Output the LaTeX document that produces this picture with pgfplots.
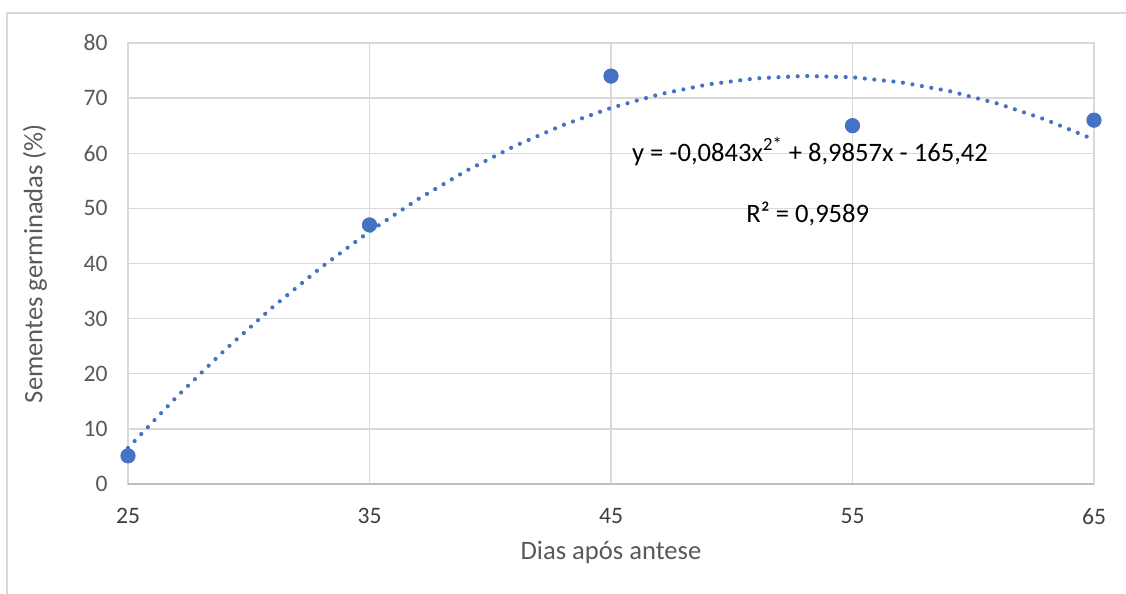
\documentclass[border=0pt]{standalone}
\usepackage{pgfplots}
\pgfplotsset{compat=1.18}
\usepackage{fontspec}
\setmainfont{Carlito}
\definecolor{gridc}{HTML}{D9D9D9}
\definecolor{axisc}{HTML}{BFBFBF}
\definecolor{txtc}{HTML}{595959}
\definecolor{ptc}{HTML}{4472C4}
\begin{document}
\begin{tikzpicture}
\useasboundingbox (0,0) rectangle (563pt,297pt);
\draw[gridc, line width=0.6pt] (3.5pt,0pt) -- (3.5pt,290.5pt) -- (563pt,290.5pt);
\begin{axis}[
  at={(64pt,55pt)}, anchor=south west,
  scale only axis, width=483pt, height=220.5pt,
  xmin=25, xmax=65, ymin=0, ymax=80,
  xtick={25,35,45,55,65}, ytick={0,10,...,80},
  grid=major, major grid style={gridc, line width=0.7pt},
  axis line style={gridc, line width=0.7pt},
  major tick length=0pt,
  font=\fontsize{11.8}{14}\selectfont,
  /pgf/number format/assume math mode=true,
  yticklabel style={text=txtc, inner sep=0pt, xshift=-10pt},
  xticklabel style={text=black!75, inner sep=0pt, yshift=-12pt},
  xlabel={Dias após antese},
  ylabel={Sementes germinadas (\%)},
  xlabel style={at={(axis description cs:0.5,0)}, anchor=center, yshift=-34pt, text=txtc, font=\fontsize{13.3}{16}\selectfont},
  ylabel style={at={(axis description cs:0,0.5)}, anchor=center, rotate=0, yshift=46.5pt, text=txtc, font=\fontsize{13.3}{16}\selectfont},
  clip=false,
]
\draw[axisc, line width=0.7pt] (rel axis cs:0,0) -- (rel axis cs:1,0);
\addplot[ptc, line width=2.1pt, line cap=round, dash pattern=on 0pt off 4.8pt] coordinates {
(25,6.535) (27,15.739) (29,24.269) (31,32.124) (33,39.305) (35,45.812)
(37,51.644) (39,56.802) (41,61.285) (43,65.094) (45,68.229) (47,70.689)
(49,72.475) (51,73.586) (53,74.023) (55,73.786) (57,72.874) (59,71.288)
(61,69.027) (63,66.092) (65,62.483)};
\addplot[only marks, mark=*, mark size=3.6pt, mark options={fill=ptc, draw=ptc}] coordinates {
(25,5.1) (35,47) (45,74) (55,65) (65,66)};
\node[font=\fontsize{13.3}{16}\selectfont, text=black] at (axis cs:53.24,60.3) {y = -0,0843x\textsuperscript{2*} + 8,9857x - 165,42};
\node[font=\fontsize{13.3}{16}\selectfont, text=black] at (axis cs:53.15,49.0) {R² = 0,9589};
\end{axis}
\end{tikzpicture}
\end{document}
